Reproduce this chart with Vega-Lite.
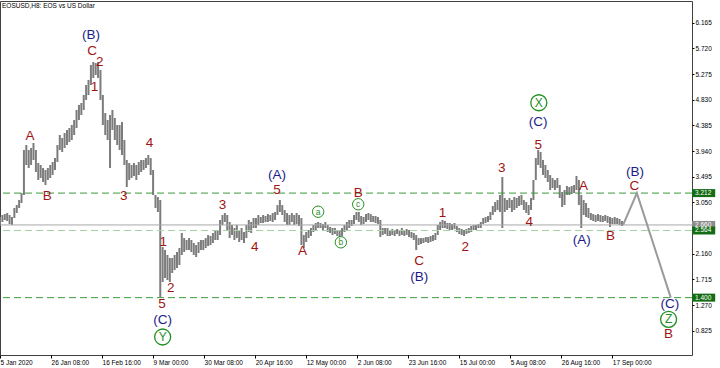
{
"$schema": "https://vega.github.io/schema/vega-lite/v6.json",
"width": 692, "height": 354,
"autosize": {"type": "none"},
"padding": {"left": 0, "top": 1, "right": 28, "bottom": 13},
"background": "white",
"config": {"view": {"stroke": "#404040", "strokeWidth": 1}, "font": "Liberation Sans", "axis": {"labelOverlap": false, "labelBound": false}},
"datasets": {
"price": [
{"d":"2020-01-05","hi":2.798,"lo":2.676},{"d":"2020-01-06","hi":2.832,"lo":2.711},{"d":"2020-01-07","hi":2.849,"lo":2.746},{"d":"2020-01-08","hi":2.867,"lo":2.728},{"d":"2020-01-09","hi":2.832,"lo":2.676},{"d":"2020-01-10","hi":2.798,"lo":2.659},{"d":"2020-01-11","hi":2.954,"lo":2.780},{"d":"2020-01-12","hi":3.005,"lo":2.867},{"d":"2020-01-13","hi":3.092,"lo":2.954},{"d":"2020-01-14","hi":3.213,"lo":3.040},
{"d":"2020-01-15","hi":3.959,"lo":3.179},{"d":"2020-01-16","hi":4.045,"lo":3.699},{"d":"2020-01-17","hi":3.959,"lo":3.647},{"d":"2020-01-18","hi":3.993,"lo":3.699},{"d":"2020-01-19","hi":4.080,"lo":3.785},{"d":"2020-01-20","hi":3.959,"lo":3.577},{"d":"2020-01-21","hi":3.733,"lo":3.439},{"d":"2020-01-22","hi":3.699,"lo":3.473},{"d":"2020-01-23","hi":3.647,"lo":3.404},{"d":"2020-01-24","hi":3.612,"lo":3.352},
{"d":"2020-01-25","hi":3.647,"lo":3.439},{"d":"2020-01-26","hi":3.699,"lo":3.473},{"d":"2020-01-27","hi":3.751,"lo":3.525},{"d":"2020-01-28","hi":3.820,"lo":3.612},{"d":"2020-01-29","hi":4.045,"lo":3.751},{"d":"2020-01-30","hi":4.219,"lo":3.959},{"d":"2020-01-31","hi":4.167,"lo":3.924},{"d":"2020-02-01","hi":4.253,"lo":3.993},{"d":"2020-02-02","hi":4.305,"lo":4.045},{"d":"2020-02-03","hi":4.340,"lo":4.097},
{"d":"2020-02-04","hi":4.392,"lo":4.132},{"d":"2020-02-05","hi":4.479,"lo":4.219},{"d":"2020-02-06","hi":4.652,"lo":4.340},{"d":"2020-02-07","hi":4.739,"lo":4.479},{"d":"2020-02-08","hi":4.773,"lo":4.565},{"d":"2020-02-09","hi":4.912,"lo":4.652},{"d":"2020-02-10","hi":5.085,"lo":4.825},{"d":"2020-02-11","hi":5.172,"lo":4.912},{"d":"2020-02-12","hi":5.432,"lo":5.085},{"d":"2020-02-13","hi":5.484,"lo":5.207},
{"d":"2020-02-14","hi":5.466,"lo":5.259},{"d":"2020-02-15","hi":5.484,"lo":5.207},{"d":"2020-02-16","hi":5.345,"lo":4.825},{"d":"2020-02-17","hi":4.912,"lo":4.392},{"d":"2020-02-18","hi":4.600,"lo":4.219},{"d":"2020-02-19","hi":4.479,"lo":4.132},{"d":"2020-02-20","hi":4.565,"lo":3.647},{"d":"2020-02-21","hi":4.652,"lo":4.305},{"d":"2020-02-22","hi":4.513,"lo":4.132},{"d":"2020-02-23","hi":4.392,"lo":4.045},
{"d":"2020-02-24","hi":4.392,"lo":3.959},{"d":"2020-02-25","hi":4.444,"lo":3.872},{"d":"2020-02-26","hi":4.132,"lo":3.699},{"d":"2020-02-27","hi":3.785,"lo":3.317},{"d":"2020-02-28","hi":3.733,"lo":3.439},{"d":"2020-02-29","hi":3.699,"lo":3.473},{"d":"2020-03-01","hi":3.733,"lo":3.508},{"d":"2020-03-02","hi":3.699,"lo":3.439},{"d":"2020-03-03","hi":3.751,"lo":3.525},{"d":"2020-03-04","hi":3.785,"lo":3.577},
{"d":"2020-03-05","hi":3.785,"lo":3.612},{"d":"2020-03-06","hi":3.820,"lo":3.647},{"d":"2020-03-07","hi":3.872,"lo":3.699},{"d":"2020-03-08","hi":3.820,"lo":3.525},{"d":"2020-03-09","hi":3.612,"lo":3.179},{"d":"2020-03-10","hi":3.179,"lo":2.954},{"d":"2020-03-11","hi":3.144,"lo":2.884},{"d":"2020-03-12","hi":3.092,"lo":1.411},{"d":"2020-03-13","hi":2.277,"lo":1.671},{"d":"2020-03-14","hi":2.225,"lo":1.740},
{"d":"2020-03-15","hi":2.139,"lo":1.706},{"d":"2020-03-16","hi":2.087,"lo":1.671},{"d":"2020-03-17","hi":2.087,"lo":1.827},{"d":"2020-03-18","hi":2.139,"lo":1.879},{"d":"2020-03-19","hi":2.191,"lo":1.914},{"d":"2020-03-20","hi":2.260,"lo":1.966},{"d":"2020-03-21","hi":2.520,"lo":2.139},{"d":"2020-03-22","hi":2.433,"lo":2.191},{"d":"2020-03-23","hi":2.399,"lo":2.225},{"d":"2020-03-24","hi":2.433,"lo":2.225},
{"d":"2020-03-25","hi":2.399,"lo":2.191},{"d":"2020-03-26","hi":2.347,"lo":2.139},{"d":"2020-03-27","hi":2.312,"lo":2.104},{"d":"2020-03-28","hi":2.364,"lo":2.173},{"d":"2020-03-29","hi":2.399,"lo":2.225},{"d":"2020-03-30","hi":2.399,"lo":2.225},{"d":"2020-03-31","hi":2.433,"lo":2.260},{"d":"2020-04-01","hi":2.486,"lo":2.295},{"d":"2020-04-02","hi":2.468,"lo":2.312},{"d":"2020-04-03","hi":2.520,"lo":2.347},
{"d":"2020-04-04","hi":2.572,"lo":2.399},{"d":"2020-04-05","hi":2.572,"lo":2.399},{"d":"2020-04-06","hi":2.746,"lo":2.486},{"d":"2020-04-07","hi":2.832,"lo":2.659},{"d":"2020-04-08","hi":2.867,"lo":2.711},{"d":"2020-04-09","hi":2.832,"lo":2.572},{"d":"2020-04-10","hi":2.711,"lo":2.433},{"d":"2020-04-11","hi":2.659,"lo":2.486},{"d":"2020-04-12","hi":2.607,"lo":2.399},{"d":"2020-04-13","hi":2.659,"lo":2.433},
{"d":"2020-04-14","hi":2.572,"lo":2.364},{"d":"2020-04-15","hi":2.607,"lo":2.399},{"d":"2020-04-16","hi":2.538,"lo":2.347},{"d":"2020-04-17","hi":2.659,"lo":2.433},{"d":"2020-04-18","hi":2.746,"lo":2.538},{"d":"2020-04-19","hi":2.711,"lo":2.520},{"d":"2020-04-20","hi":2.780,"lo":2.607},{"d":"2020-04-21","hi":2.780,"lo":2.607},{"d":"2020-04-22","hi":2.832,"lo":2.659},{"d":"2020-04-23","hi":2.798,"lo":2.694},
{"d":"2020-04-24","hi":2.832,"lo":2.694},{"d":"2020-04-25","hi":2.815,"lo":2.711},{"d":"2020-04-26","hi":2.849,"lo":2.711},{"d":"2020-04-27","hi":2.832,"lo":2.728},{"d":"2020-04-28","hi":2.867,"lo":2.711},{"d":"2020-04-29","hi":2.884,"lo":2.746},{"d":"2020-04-30","hi":3.005,"lo":2.832},{"d":"2020-05-01","hi":3.092,"lo":2.884},{"d":"2020-05-02","hi":3.005,"lo":2.832},{"d":"2020-05-03","hi":2.919,"lo":2.711},
{"d":"2020-05-04","hi":2.867,"lo":2.659},{"d":"2020-05-05","hi":2.832,"lo":2.659},{"d":"2020-05-06","hi":2.867,"lo":2.711},{"d":"2020-05-07","hi":2.832,"lo":2.659},{"d":"2020-05-08","hi":2.867,"lo":2.676},{"d":"2020-05-09","hi":2.832,"lo":2.642},{"d":"2020-05-10","hi":2.780,"lo":2.312},{"d":"2020-05-11","hi":2.486,"lo":2.260},{"d":"2020-05-12","hi":2.538,"lo":2.364},{"d":"2020-05-13","hi":2.572,"lo":2.433},
{"d":"2020-05-14","hi":2.607,"lo":2.468},{"d":"2020-05-15","hi":2.659,"lo":2.538},{"d":"2020-05-16","hi":2.694,"lo":2.572},{"d":"2020-05-17","hi":2.711,"lo":2.607},{"d":"2020-05-18","hi":2.694,"lo":2.607},{"d":"2020-05-19","hi":2.676,"lo":2.572},{"d":"2020-05-20","hi":2.711,"lo":2.607},{"d":"2020-05-21","hi":2.659,"lo":2.538},{"d":"2020-05-22","hi":2.624,"lo":2.520},{"d":"2020-05-23","hi":2.607,"lo":2.486},
{"d":"2020-05-24","hi":2.607,"lo":2.503},{"d":"2020-05-25","hi":2.572,"lo":2.468},{"d":"2020-05-26","hi":2.572,"lo":2.451},{"d":"2020-05-27","hi":2.607,"lo":2.468},{"d":"2020-05-28","hi":2.659,"lo":2.538},{"d":"2020-05-29","hi":2.711,"lo":2.572},{"d":"2020-05-30","hi":2.746,"lo":2.607},{"d":"2020-05-31","hi":2.746,"lo":2.642},{"d":"2020-06-01","hi":2.832,"lo":2.676},{"d":"2020-06-02","hi":2.884,"lo":2.746},
{"d":"2020-06-03","hi":2.884,"lo":2.711},{"d":"2020-06-04","hi":2.815,"lo":2.659},{"d":"2020-06-05","hi":2.798,"lo":2.676},{"d":"2020-06-06","hi":2.849,"lo":2.711},{"d":"2020-06-07","hi":2.867,"lo":2.746},{"d":"2020-06-08","hi":2.849,"lo":2.711},{"d":"2020-06-09","hi":2.815,"lo":2.711},{"d":"2020-06-10","hi":2.815,"lo":2.694},{"d":"2020-06-11","hi":2.798,"lo":2.676},{"d":"2020-06-12","hi":2.746,"lo":2.451},
{"d":"2020-06-13","hi":2.607,"lo":2.486},{"d":"2020-06-14","hi":2.607,"lo":2.503},{"d":"2020-06-15","hi":2.607,"lo":2.468},{"d":"2020-06-16","hi":2.572,"lo":2.468},{"d":"2020-06-17","hi":2.590,"lo":2.486},{"d":"2020-06-18","hi":2.572,"lo":2.468},{"d":"2020-06-19","hi":2.590,"lo":2.503},{"d":"2020-06-20","hi":2.572,"lo":2.468},{"d":"2020-06-21","hi":2.607,"lo":2.486},{"d":"2020-06-22","hi":2.572,"lo":2.468},
{"d":"2020-06-23","hi":2.590,"lo":2.486},{"d":"2020-06-24","hi":2.572,"lo":2.451},{"d":"2020-06-25","hi":2.538,"lo":2.433},{"d":"2020-06-26","hi":2.520,"lo":2.399},{"d":"2020-06-27","hi":2.486,"lo":2.225},{"d":"2020-06-28","hi":2.433,"lo":2.312},{"d":"2020-06-29","hi":2.433,"lo":2.329},{"d":"2020-06-30","hi":2.433,"lo":2.347},{"d":"2020-07-01","hi":2.451,"lo":2.364},{"d":"2020-07-02","hi":2.451,"lo":2.347},
{"d":"2020-07-03","hi":2.468,"lo":2.364},{"d":"2020-07-04","hi":2.486,"lo":2.381},{"d":"2020-07-05","hi":2.520,"lo":2.399},{"d":"2020-07-06","hi":2.659,"lo":2.486},{"d":"2020-07-07","hi":2.711,"lo":2.572},{"d":"2020-07-08","hi":2.746,"lo":2.607},{"d":"2020-07-09","hi":2.728,"lo":2.607},{"d":"2020-07-10","hi":2.694,"lo":2.590},{"d":"2020-07-11","hi":2.694,"lo":2.572},{"d":"2020-07-12","hi":2.676,"lo":2.572},
{"d":"2020-07-13","hi":2.694,"lo":2.590},{"d":"2020-07-14","hi":2.642,"lo":2.538},{"d":"2020-07-15","hi":2.607,"lo":2.503},{"d":"2020-07-16","hi":2.590,"lo":2.486},{"d":"2020-07-17","hi":2.572,"lo":2.468},{"d":"2020-07-18","hi":2.590,"lo":2.503},{"d":"2020-07-19","hi":2.607,"lo":2.520},{"d":"2020-07-20","hi":2.642,"lo":2.538},{"d":"2020-07-21","hi":2.659,"lo":2.572},{"d":"2020-07-22","hi":2.659,"lo":2.572},
{"d":"2020-07-23","hi":2.676,"lo":2.607},{"d":"2020-07-24","hi":2.711,"lo":2.607},{"d":"2020-07-25","hi":2.780,"lo":2.676},{"d":"2020-07-26","hi":2.798,"lo":2.694},{"d":"2020-07-27","hi":2.815,"lo":2.711},{"d":"2020-07-28","hi":2.884,"lo":2.746},{"d":"2020-07-29","hi":2.988,"lo":2.832},{"d":"2020-07-30","hi":3.057,"lo":2.884},{"d":"2020-07-31","hi":3.092,"lo":2.919},{"d":"2020-08-01","hi":3.179,"lo":2.884},
{"d":"2020-08-02","hi":3.491,"lo":2.607},{"d":"2020-08-03","hi":3.127,"lo":2.884},{"d":"2020-08-04","hi":3.092,"lo":2.919},{"d":"2020-08-05","hi":3.127,"lo":2.954},{"d":"2020-08-06","hi":3.092,"lo":2.884},{"d":"2020-08-07","hi":3.144,"lo":2.919},{"d":"2020-08-08","hi":3.127,"lo":2.954},{"d":"2020-08-09","hi":3.161,"lo":2.988},{"d":"2020-08-10","hi":3.179,"lo":3.005},{"d":"2020-08-11","hi":3.092,"lo":2.919},
{"d":"2020-08-12","hi":3.057,"lo":2.867},{"d":"2020-08-13","hi":3.005,"lo":2.832},{"d":"2020-08-14","hi":3.127,"lo":2.919},{"d":"2020-08-15","hi":3.439,"lo":3.092},{"d":"2020-08-16","hi":3.820,"lo":3.439},{"d":"2020-08-17","hi":3.959,"lo":3.699},{"d":"2020-08-18","hi":3.924,"lo":3.647},{"d":"2020-08-19","hi":3.785,"lo":3.525},{"d":"2020-08-20","hi":3.699,"lo":3.473},{"d":"2020-08-21","hi":3.612,"lo":3.404},
{"d":"2020-08-22","hi":3.525,"lo":3.265},{"d":"2020-08-23","hi":3.473,"lo":3.300},{"d":"2020-08-24","hi":3.439,"lo":3.265},{"d":"2020-08-25","hi":3.473,"lo":3.300},{"d":"2020-08-26","hi":3.352,"lo":3.127},{"d":"2020-08-27","hi":3.231,"lo":2.971},{"d":"2020-08-28","hi":3.265,"lo":3.005},{"d":"2020-08-29","hi":3.335,"lo":3.179},{"d":"2020-08-30","hi":3.317,"lo":3.179},{"d":"2020-08-31","hi":3.335,"lo":3.196},
{"d":"2020-09-01","hi":3.352,"lo":3.213},{"d":"2020-09-02","hi":3.508,"lo":3.265},{"d":"2020-09-03","hi":3.439,"lo":3.005},{"d":"2020-09-04","hi":3.179,"lo":2.607},{"d":"2020-09-05","hi":3.092,"lo":2.832},{"d":"2020-09-06","hi":3.040,"lo":2.798},{"d":"2020-09-07","hi":2.954,"lo":2.780},{"d":"2020-09-08","hi":2.867,"lo":2.746},{"d":"2020-09-09","hi":2.849,"lo":2.728},{"d":"2020-09-10","hi":2.832,"lo":2.711},
{"d":"2020-09-11","hi":2.849,"lo":2.728},{"d":"2020-09-12","hi":2.832,"lo":2.711},{"d":"2020-09-13","hi":2.815,"lo":2.711},{"d":"2020-09-14","hi":2.832,"lo":2.728},{"d":"2020-09-15","hi":2.815,"lo":2.694},{"d":"2020-09-16","hi":2.798,"lo":2.624},{"d":"2020-09-17","hi":2.780,"lo":2.676},{"d":"2020-09-18","hi":2.798,"lo":2.676},{"d":"2020-09-19","hi":2.780,"lo":2.676},{"d":"2020-09-20","hi":2.763,"lo":2.659},
{"d":"2020-09-21","hi":2.728,"lo":2.642}
],
"levels": [{"v":3.212,"k":"strong"},{"v":1.4,"k":"strong"},{"v":2.564,"k":"light"},{"v":2.66,"k":"price"}],
"tags": [{"v":2.66,"t":"2.660","k":"price"},{"v":3.212,"t":"3.212","k":"strong"},{"v":2.564,"t":"2.564","k":"strong"},{"v":1.4,"t":"1.400","k":"strong"}],
"proj": [{"d":"2020-09-21T12:00:00Z","v":2.66},{"d":"2020-09-27T06:00:00Z","v":3.212},{"d":"2020-10-11T10:00:00Z","v":1.4}],
"waves": [
{"d":"2020-02-12T00:00:00Z","v":5.952,"t":"(B)","k":"n"},
{"d":"2020-02-12T12:00:00Z","v":5.680,"t":"C","k":"r"},
{"d":"2020-02-15T18:00:00Z","v":5.479,"t":"2","k":"r"},
{"d":"2020-02-13T12:00:00Z","v":5.056,"t":"1","k":"r"},
{"d":"2020-01-17T12:00:00Z","v":4.201,"t":"A","k":"r"},
{"d":"2020-01-24T18:00:00Z","v":3.167,"t":"B","k":"r"},
{"d":"2020-02-25T18:00:00Z","v":3.167,"t":"3","k":"r"},
{"d":"2020-03-07T12:00:00Z","v":4.075,"t":"4","k":"r"},
{"d":"2020-03-13T06:00:00Z","v":2.369,"t":"1","k":"r"},
{"d":"2020-03-16T10:00:00Z","v":1.562,"t":"2","k":"r"},
{"d":"2020-03-12T18:00:00Z","v":1.290,"t":"5","k":"r"},
{"d":"2020-03-13T00:00:00Z","v":1.012,"t":"(C)","k":"n"},
{"d":"2020-04-07T00:00:00Z","v":3.005,"t":"3","k":"r"},
{"d":"2020-04-20T12:00:00Z","v":2.283,"t":"4","k":"r"},
{"d":"2020-04-29T18:00:00Z","v":3.520,"t":"(A)","k":"n"},
{"d":"2020-04-29T18:00:00Z","v":3.265,"t":"5","k":"r"},
{"d":"2020-05-10T12:00:00Z","v":2.213,"t":"A","k":"r"},
{"d":"2020-06-02T18:00:00Z","v":3.208,"t":"B","k":"r"},
{"d":"2020-06-28T06:00:00Z","v":2.040,"t":"C","k":"r"},
{"d":"2020-06-28T06:00:00Z","v":1.763,"t":"(B)","k":"n"},
{"d":"2020-07-08T00:00:00Z","v":2.872,"t":"1","k":"r"},
{"d":"2020-07-17T12:00:00Z","v":2.283,"t":"2","k":"r"},
{"d":"2020-08-01T18:00:00Z","v":3.642,"t":"3","k":"r"},
{"d":"2020-08-13T06:00:00Z","v":2.716,"t":"4","k":"r"},
{"d":"2020-08-17T00:00:00Z","v":4.439,"t":"(C)","k":"n"},
{"d":"2020-08-17T00:00:00Z","v":4.045,"t":"5","k":"r"},
{"d":"2020-09-04T22:00:00Z","v":3.335,"t":"A","k":"r"},
{"d":"2020-09-04T06:00:00Z","v":2.399,"t":"(A)","k":"n"},
{"d":"2020-09-16T06:00:00Z","v":2.468,"t":"B","k":"r"},
{"d":"2020-09-26T12:00:00Z","v":3.577,"t":"(B)","k":"n"},
{"d":"2020-09-26T06:00:00Z","v":3.335,"t":"C","k":"r"},
{"d":"2020-10-11T00:00:00Z","v":1.284,"t":"(C)","k":"n"},
{"d":"2020-10-10T12:00:00Z","v":0.770,"t":"B","k":"r"}
],
"circ": [
{"d":"2020-03-13T00:00:00Z","v":0.718,"t":"Y","k":"big"},
{"d":"2020-08-17T06:00:00Z","v":4.778,"t":"X","k":"big"},
{"d":"2020-10-10T12:00:00Z","v":1.025,"t":"Z","k":"big"},
{"d":"2020-05-17T00:00:00Z","v":2.889,"t":"a","k":"small"},
{"d":"2020-05-26T12:00:00Z","v":2.359,"t":"b","k":"small"},
{"d":"2020-06-02T18:00:00Z","v":3.018,"t":"c","k":"small"}
],
"title": [{"t":"EOSUSD,H8:  EOS vs US Dollar"}]
},
"layer": [
{
"data": {"name": "price"},
"mark": {"type": "rule", "color": "#7c7c7c", "strokeWidth": 2},
"encoding": {
"x": {"field": "d", "type": "temporal",
"scale": {"type": "utc", "domain": [{"year":2020,"month":1,"date":5,"utc":true},{"year":2020,"month":10,"date":20,"hours":7,"utc":true}], "nice": false},
"axis": {"orient": "bottom", "title": null, "grid": false, "domain": false, "tickCount": 40,
"values": [
{"year":2020,"month":1,"date":5,"utc":true},
{"year":2020,"month":1,"date":26,"hours":8,"utc":true},
{"year":2020,"month":2,"date":16,"hours":16,"utc":true},
{"year":2020,"month":3,"date":9,"utc":true},
{"year":2020,"month":3,"date":30,"hours":8,"utc":true},
{"year":2020,"month":4,"date":20,"hours":16,"utc":true},
{"year":2020,"month":5,"date":12,"utc":true},
{"year":2020,"month":6,"date":2,"hours":8,"utc":true},
{"year":2020,"month":6,"date":23,"hours":16,"utc":true},
{"year":2020,"month":7,"date":15,"utc":true},
{"year":2020,"month":8,"date":5,"hours":8,"utc":true},
{"year":2020,"month":8,"date":26,"hours":16,"utc":true},
{"year":2020,"month":9,"date":17,"utc":true}],
"labelExpr": "utcFormat(datum.value, '%m%d') == '0105' ? '5 Jan 2020' : utcFormat(datum.value, '%-d %b %H:%M')",
"labelAlign": "left", "labelBaseline": "top", "labelFontSize": 6.5, "labelColor": "#000", "labelFont": "Liberation Sans",
"tickSize": 3, "tickColor": "#000", "labelPadding": 1, "labelOverlap": false, "labelFlush": false}},
"y": {"field": "hi", "type": "quantitative",
"scale": {"domain": [0.406, 6.541], "nice": false, "zero": false},
"axis": {"orient": "right", "title": null, "grid": false, "domain": false, "tickCount": 40,
"values": [0.825,1.27,1.715,2.16,3.05,3.495,3.94,4.385,4.83,5.275,5.72,6.165],
"format": ".3f", "labelFontSize": 6.5, "labelColor": "#000", "labelFont": "Liberation Sans",
"tickSize": 2, "tickColor": "#000", "labelPadding": 1, "labelOverlap": false, "labelFlush": false, "labelBaseline": "middle"}},
"y2": {"field": "lo"}
}
},
{
"data": {"name": "levels"},
"transform": [{"filter": "datum.k == 'strong'"}],
"mark": {"type": "rule", "color": "#3c9a3c", "strokeWidth": 1, "strokeDash": [7, 4]},
"encoding": {"y": {"field": "v", "type": "quantitative"}}
},
{
"data": {"name": "levels"},
"transform": [{"filter": "datum.k == 'light'"}],
"mark": {"type": "rule", "color": "#a6d3a6", "strokeWidth": 1.2, "strokeDash": [7, 4]},
"encoding": {"y": {"field": "v", "type": "quantitative"}}
},
{
"data": {"name": "levels"},
"transform": [{"filter": "datum.k == 'price'"}],
"mark": {"type": "rule", "color": "#a8a8a8", "strokeWidth": 1},
"encoding": {"y": {"field": "v", "type": "quantitative"}}
},
{
"data": {"name": "proj"},
"mark": {"type": "line", "color": "#9a9a9a", "strokeWidth": 2},
"encoding": {
"x": {"field": "d", "type": "temporal"},
"y": {"field": "v", "type": "quantitative"}
}
},
{
"data": {"name": "waves"},
"mark": {"type": "text", "fontSize": 13.5, "font": "Liberation Sans", "align": "center", "baseline": "middle"},
"encoding": {
"x": {"field": "d", "type": "temporal"},
"y": {"field": "v", "type": "quantitative"},
"text": {"field": "t"},
"color": {"field": "k", "type": "nominal", "scale": {"domain": ["r", "n"], "range": ["#a01414", "#1c1c8a"]}, "legend": null}
}
},
{
"data": {"name": "circ"},
"transform": [{"filter": "datum.k == 'big'"}],
"mark": {"type": "point", "shape": "circle", "size": 256, "filled": false, "stroke": "#1f8f1f", "strokeWidth": 1.3, "opacity": 1},
"encoding": {
"x": {"field": "d", "type": "temporal"},
"y": {"field": "v", "type": "quantitative"}
}
},
{
"data": {"name": "circ"},
"transform": [{"filter": "datum.k == 'big'"}],
"mark": {"type": "text", "fontSize": 12, "font": "Liberation Sans", "color": "#1f8f1f", "align": "center", "baseline": "middle"},
"encoding": {
"x": {"field": "d", "type": "temporal"},
"y": {"field": "v", "type": "quantitative"},
"text": {"field": "t"}
}
},
{
"data": {"name": "circ"},
"transform": [{"filter": "datum.k == 'small'"}],
"mark": {"type": "point", "shape": "circle", "size": 130, "filled": false, "stroke": "#1f8f1f", "strokeWidth": 1, "opacity": 1},
"encoding": {
"x": {"field": "d", "type": "temporal"},
"y": {"field": "v", "type": "quantitative"}
}
},
{
"data": {"name": "circ"},
"transform": [{"filter": "datum.k == 'small'"}],
"mark": {"type": "text", "fontSize": 8.5, "font": "Liberation Sans", "color": "#1f8f1f", "align": "center", "baseline": "middle"},
"encoding": {
"x": {"field": "d", "type": "temporal"},
"y": {"field": "v", "type": "quantitative"},
"text": {"field": "t"}
}
},
{
"data": {"name": "tags"},
"transform": [{"filter": "datum.k == 'price'"}],
"mark": {"type": "point", "shape": "M0,-1H5.8V1H0Z", "size": 64, "filled": true, "fill": "#8c8c8c", "strokeWidth": 0, "opacity": 1},
"encoding": {
"x": {"value": "width"},
"y": {"field": "v", "type": "quantitative"}
}
},
{
"data": {"name": "tags"},
"transform": [{"filter": "datum.k == 'strong'"}],
"mark": {"type": "point", "shape": "M0,-1H5.8V1H0Z", "size": 64, "filled": true, "fill": "#146c14", "strokeWidth": 0, "opacity": 1},
"encoding": {
"x": {"value": "width"},
"y": {"field": "v", "type": "quantitative"}
}
},
{
"data": {"name": "tags"},
"mark": {"type": "text", "fontSize": 6.5, "font": "Liberation Sans", "color": "white", "align": "left", "baseline": "middle", "dx": 3},
"encoding": {
"x": {"value": "width"},
"y": {"field": "v", "type": "quantitative"},
"text": {"field": "t"}
}
},
{
"data": {"name": "title"},
"mark": {"type": "text", "fontSize": 6.5, "font": "Liberation Sans", "color": "#000", "align": "left", "baseline": "top", "dx": 2, "dy": 2},
"encoding": {
"x": {"datum": {"year":2020,"month":1,"date":5,"utc":true}, "type": "temporal"},
"y": {"datum": 6.541, "type": "quantitative"},
"text": {"field": "t"}
}
}
]
}
